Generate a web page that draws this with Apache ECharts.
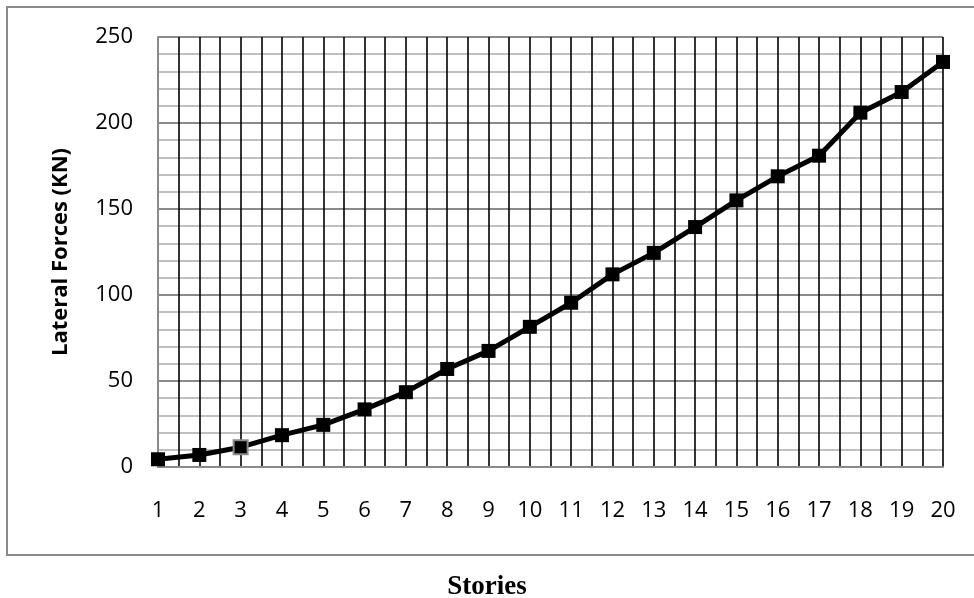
<!DOCTYPE html>
<html>
<head>
<meta charset="utf-8">
<script src="https://cdn.jsdelivr.net/npm/echarts@6/dist/echarts.min.js"></script>
<style>
	html, body { margin: 0; padding: 0; background: #fff; }
	#chart { width: 974px; height: 598px; }
</style>
</head>
<body>
<div id="chart"></div>
<script>
	// storeys along the x axis
	var stories = [1, 2, 3, 4, 5, 6, 7, 8, 9, 10, 11, 12, 13, 14, 15, 16, 17, 18, 19, 20];
	// lateral force per storey (KN)
	var lateralForces = [4.5, 7, 11.5, 18.5, 24.5, 33.5, 43.5, 57, 67.5, 81.5,
		95.5, 112, 124.5, 139.5, 155, 169, 181, 206, 218, 235.5];
	var yTicks = [0, 50, 100, 150, 200, 250];

	var myChart = echarts.init(document.getElementById('chart'));

	var points = [];
	for (var i = 0, j = stories.length; i < j; i++) {
		var item = { value: [stories[i], lateralForces[i]] };
		// the 3rd marker has a grey edge in the original
		if (i === 2) item.itemStyle = { borderColor: '#8a8a8a', borderWidth: 2 };
		points.push(item);
	}

	var labelFont = { fontFamily: 'Open Sans', fontSize: 22, color: '#000' };

	var option = {
		backgroundColor: '#fff',
		animation: false,
		// x axis title sits centred on the page, under the frame
		title: {
			text: 'Stories',
			left: 'center',
			top: 574,
			padding: 0,
			textStyle: { fontFamily: 'Liberation Serif', fontWeight: 'bold', fontSize: 27, color: '#000' }
		},
		graphic: [{
			type: 'rect',
			shape: { x: 7, y: 7, width: 1000, height: 548 },
			style: { fill: null, stroke: '#8a8a8a', lineWidth: 2 },
			silent: true
		}],
		grid: { left: 158, right: 31, top: 37, bottom: 131, outerBoundsMode: 'none', containLabel: false },
		xAxis: {
			type: 'value',
			min: stories[0],
			max: stories[stories.length - 1],
			interval: 1,
			axisLine: { show: true, lineStyle: { color: '#8a8a8a', width: 2 } },
			axisTick: { show: false },
			axisLabel: Object.assign({ margin: 33 }, labelFont),
			splitLine: { show: true, lineStyle: { color: '#000', width: 1.6 } },
			minorTick: { show: false, splitNumber: 2 },
			minorSplitLine: { show: true, lineStyle: { color: '#000', width: 1.6 } }
		},
		yAxis: {
			type: 'value',
			min: yTicks[0],
			max: yTicks[yTicks.length - 1],
			interval: 50,
			name: 'Lateral Forces (KN)',
			nameLocation: 'middle',
			nameGap: 86,
			nameTextStyle: { fontFamily: 'Open Sans', fontWeight: 'bold', fontSize: 22, color: '#000' },
			axisLine: { show: true, lineStyle: { color: '#8a8a8a', width: 2 } },
			axisTick: { show: false },
			axisLabel: Object.assign({ margin: 25 }, labelFont),
			splitLine: { show: true, lineStyle: { color: '#8a8a8a', width: 2 } },
			minorTick: { show: false, splitNumber: 5 },
			minorSplitLine: { show: true, lineStyle: { color: '#c0c0c0', width: 2 } }
		},
		series: [{
			type: 'line',
			data: points,
			symbol: 'rect',
			symbolSize: 14,
			lineStyle: { color: '#000', width: 5 },
			itemStyle: { color: '#000' },
			z: 5
		}]
	};

	myChart.setOption(option);
</script>
</body>
</html>
